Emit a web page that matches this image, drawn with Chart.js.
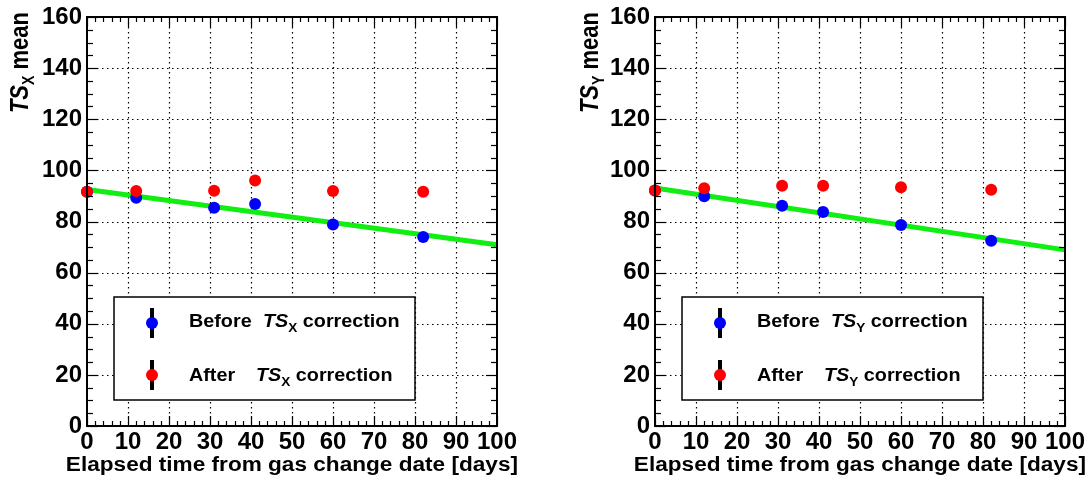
<!DOCTYPE html>
<html lang="en">
<head>
    <meta charset="UTF-8">
    <title>TS mean vs elapsed time</title>
    <script src="https://cdn.jsdelivr.net/npm/chart.js"></script>
    <style>
        body { margin: 0; background: #fff; }
        .row { display: flex; width: 1090px; height: 482px; }
        canvas { display: block; }
    </style>
</head>
<body>
    <div class="row">
        <canvas id="chartX" width="545" height="482"></canvas>
        <canvas id="chartY" width="545" height="482"></canvas>
    </div>
    <script>
// elapsed days of each measurement
const days = [0, 12, 31, 41, 60, 82];

// TS_X mean
const beforeTSX = [91.6, 89.3, 85.4, 86.8, 78.8, 73.9];
const afterTSX  = [91.6, 91.9, 92.0, 96.0, 91.9, 91.6];

// TS_Y mean
const beforeTSY = [92.1, 89.9, 86.2, 83.7, 78.6, 72.5];
const afterTSY  = [92.1, 93.0, 94.0, 94.0, 93.4, 92.4];

// linear fit end points
const fitDays = [0, 100];
const fitTSX = [92.5, 70.9];
const fitTSY = [93.1, 68.9];

// axis ranges / ticks
const xMin = 0, xMax = 100, xStep = 10, xMinor = 2;
const yMin = 0, yMax = 160, yStep = 20, yMinor = 5;

const FONT = '"Liberation Sans", Arial, Helvetica, sans-serif';

function pts(xs, ys) {
    return xs.map((x, i) => ({ x: x, y: ys[i] }));
}

function line(ctx, x1, y1, x2, y2) {
    ctx.beginPath();
    ctx.moveTo(x1, y1);
    ctx.lineTo(x2, y2);
    ctx.stroke();
}

// draws text pieces one after the other, stretched by kx
function rich(ctx, parts, x, y, kx) {
    ctx.save();
    ctx.translate(x, y);
    ctx.scale(kx, 1);
    let cx = 0;
    parts.forEach(p => {
        ctx.font = p.font;
        ctx.fillText(p.text, cx, p.dy || 0);
        cx += ctx.measureText(p.text).width;
    });
    ctx.restore();
}

const rootStyle = {
    id: 'rootStyle',
    beforeDatasetsDraw(chart) {
        const { ctx, chartArea: a, scales: { x, y } } = chart;
        ctx.save();
        ctx.strokeStyle = '#000';
        ctx.lineWidth = 1.2;
        ctx.setLineDash([1.5, 3.5]);
        x.ticks.forEach(t => {
            if (t.value === xMin || t.value === xMax) return;
            const px = Math.round(x.getPixelForValue(t.value)) + 0.5;
            line(ctx, px, a.top, px, a.bottom);
        });
        y.ticks.forEach(t => {
            if (t.value === yMin || t.value === yMax) return;
            const py = Math.round(y.getPixelForValue(t.value)) + 0.5;
            line(ctx, a.left, py, a.right, py);
        });
        ctx.restore();
    },
    afterDatasetsDraw(chart, args, opts) {
        const { ctx, chartArea: a, scales: { x, y } } = chart;
        ctx.save();
        ctx.strokeStyle = '#000';
        ctx.fillStyle = '#000';

        // tick marks on all four sides
        ctx.lineWidth = 1.2;
        for (let i = 0; i <= (xMax - xMin) / xMinor; i++) {
            const v = xMin + i * xMinor;
            const px = Math.round(x.getPixelForValue(v)) + 0.5;
            const len = v % xStep === 0 ? 10 : 5;
            line(ctx, px, a.bottom, px, a.bottom - len);
            line(ctx, px, a.top, px, a.top + len);
        }
        for (let i = 0; i <= (yMax - yMin) / yMinor; i++) {
            const v = yMin + i * yMinor;
            const py = Math.round(y.getPixelForValue(v)) + 0.5;
            const len = v % yStep === 0 ? 11 : 6;
            line(ctx, a.left, py, a.left + len, py);
            line(ctx, a.right, py, a.right - len, py);
        }

        // frame
        ctx.lineWidth = 2;
        ctx.strokeRect(a.left, a.top, a.right - a.left, a.bottom - a.top);

        // legend box
        const bx = a.left + 27, by = 297, bw = 301, bh = 103;
        ctx.fillStyle = '#fff';
        ctx.fillRect(bx, by, bw, bh);
        ctx.lineWidth = 1.5;
        ctx.strokeRect(bx, by, bw, bh);

        const ds = chart.data.datasets;
        const rows = [
            { label: 'Before', color: ds[1].backgroundColor, my: by + 26, ty: by + 30, ts: bx + 149 },
            { label: 'After', color: ds[0].backgroundColor, my: by + 78, ty: by + 84, ts: bx + 142 }
        ];
        const mx = bx + 38;
        rows.forEach(r => {
            ctx.strokeStyle = '#000';
            ctx.lineWidth = 4;
            line(ctx, mx, r.my - 15, mx, r.my + 15);
            ctx.fillStyle = r.color;
            ctx.beginPath();
            ctx.arc(mx, r.my, 6, 0, Math.PI * 2);
            ctx.fill();
            ctx.fillStyle = '#000';
            ctx.textAlign = 'left';
            ctx.textBaseline = 'alphabetic';
            rich(ctx, [{ text: r.label, font: 'bold 17.5px ' + FONT }], bx + 75, r.ty, 1.13);
            rich(ctx, [
                { text: 'TS', font: 'italic bold 17.5px ' + FONT },
                { text: opts.sub, font: 'bold 12px ' + FONT, dy: 5 },
                { text: ' correction', font: 'bold 17.5px ' + FONT }
            ], r.ts, r.ty, 1.13);
        });

        // x axis title
        ctx.save();
        ctx.translate(a.right + 21, 471);
        ctx.scale(1.13, 1);
        ctx.font = 'bold 20px ' + FONT;
        ctx.textAlign = 'right';
        ctx.fillText('Elapsed time from gas change date [days]', 0, 0);
        ctx.restore();

        // y axis title, rotated, aligned to the top
        const yParts = [
            { text: 'TS', font: 'italic bold 25px ' + FONT },
            { text: opts.sub, font: 'bold 16px ' + FONT, dy: 6 },
            { text: ' mean', font: 'bold 25px ' + FONT }
        ];
        let total = 0;
        yParts.forEach(p => { ctx.font = p.font; total += ctx.measureText(p.text).width; });
        ctx.save();
        ctx.translate(opts.titleX, 12);
        ctx.rotate(-Math.PI / 2);
        ctx.textAlign = 'left';
        rich(ctx, yParts, -total * 0.88, 0, 0.88);
        ctx.restore();

        ctx.restore();
    }
};

function makeChart(id, sub, before, after, fit, leftW, rightPad, titleX) {
    const ctx = document.getElementById(id).getContext('2d');
    return new Chart(ctx, {
        type: 'scatter',
        data: {
            datasets: [
                {
                    label: 'After',
                    data: pts(days, after),
                    backgroundColor: '#ff0000',
                    pointRadius: 6,
                    pointBorderWidth: 0,
                    clip: false
                },
                {
                    label: 'Before',
                    data: pts(days, before),
                    backgroundColor: '#0000ff',
                    pointRadius: 6,
                    pointBorderWidth: 0,
                    clip: false
                },
                {
                    type: 'line',
                    label: 'Fit',
                    data: pts(fitDays, fit),
                    borderColor: '#11ee11',
                    borderWidth: 5,
                    pointRadius: 0,
                    fill: false,
                    clip: false
                }
            ]
        },
        options: {
            responsive: false,
            animation: false,
            devicePixelRatio: 1,
            layout: { padding: { left: 0, right: rightPad, top: 14, bottom: 0 } },
            plugins: {
                legend: { display: false },
                tooltip: { enabled: false },
                rootStyle: { sub: sub, titleX: titleX }
            },
            scales: {
                x: {
                    type: 'linear',
                    min: xMin,
                    max: xMax,
                    grid: { display: false, drawTicks: false },
                    border: { display: false },
                    ticks: {
                        stepSize: xStep,
                        padding: 4,
                        color: '#000',
                        maxRotation: 0,
                        autoSkip: false,
                        font: { family: FONT, size: 24, weight: 'bold', lineHeight: 1 }
                    },
                    afterFit: s => { s.height = 56; }
                },
                y: {
                    type: 'linear',
                    min: yMin,
                    max: yMax,
                    grid: { display: false, drawTicks: false },
                    border: { display: false },
                    ticks: {
                        stepSize: yStep,
                        padding: 5,
                        color: '#000',
                        autoSkip: false,
                        font: { family: FONT, size: 24, weight: 'bold', lineHeight: 1 }
                    },
                    afterFit: s => { s.width = leftW; }
                }
            }
        },
        plugins: [rootStyle]
    });
}

makeChart('chartX', 'X', beforeTSX, afterTSX, fitTSX, 87, 48, 28);
makeChart('chartY', 'Y', beforeTSY, afterTSY, fitTSY, 110, 25, 53);
    </script>
</body>
</html>
